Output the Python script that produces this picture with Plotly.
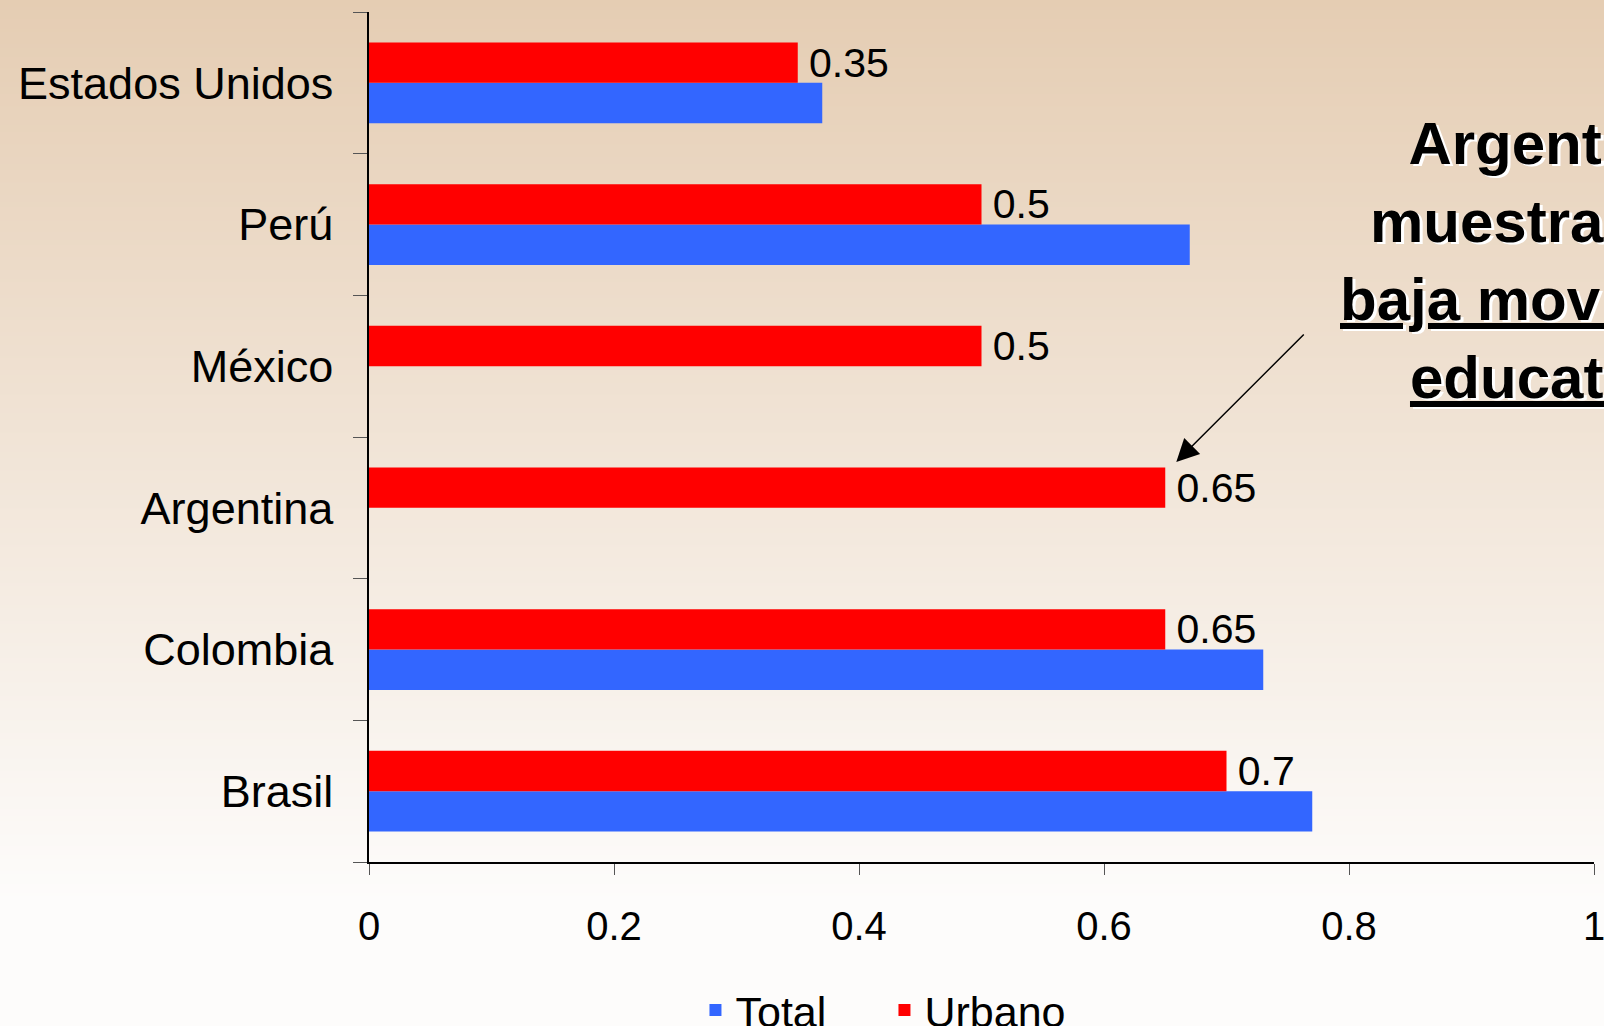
import base64, struct, zlib
import plotly.graph_objects as go

# ---- data ----
countries = ["Brasil", "Colombia", "Argentina", "México", "Perú", "Estados Unidos"]
total_vals = [0.77, 0.73, None, None, 0.67, 0.37]
urbano_vals = [0.70, 0.65, 0.65, 0.50, 0.50, 0.35]
x_ticks = [0, 0.2, 0.4, 0.6, 0.8, 1]
x_tick_labels = ["0", "0.2", "0.4", "0.6", "0.8", "1"]
series_names = ["Total", "Urbano"]

W, H = 1604, 1026
ML, MR, MT, MB = 369, 10, 12, 164

# ---- background gradient as tiny PNG (styling only) ----
def gradient_png(h):
    top = (229, 205, 179)
    bot = (253, 252, 251)
    end = 0.88
    rows = b""
    for i in range(h):
        t = min(1.0, (i / (h - 1)) / end)
        c = tuple(int(round(top[k] + (bot[k] - top[k]) * t)) for k in range(3))
        rows += b"\x00" + bytes(c)
    def chunk(tag, data):
        return struct.pack(">I", len(data)) + tag + data + struct.pack(">I", zlib.crc32(tag + data) & 0xffffffff)
    png = b"\x89PNG\r\n\x1a\n"
    png += chunk(b"IHDR", struct.pack(">IIBBBBB", 1, h, 8, 2, 0, 0, 0))
    png += chunk(b"IDAT", zlib.compress(rows))
    png += chunk(b"IEND", b"")
    return "data:image/png;base64," + base64.b64encode(png).decode()

font = "Liberation Sans, Arial, sans-serif"

fig = go.Figure()
fig.add_trace(go.Bar(
    y=countries, x=total_vals, name=series_names[0], orientation="h",
    marker=dict(color="#3366FF", line=dict(width=0)),
))
fig.add_trace(go.Bar(
    y=countries, x=urbano_vals, name=series_names[1], orientation="h",
    marker=dict(color="#FF0000", line=dict(width=0)),
    text=urbano_vals, texttemplate="\u2009%{x}", textposition="outside",
    textfont=dict(size=41, color="black", family=font), constraintext="none",
    cliponaxis=False,
))

pw = W - ML - MR
ph = H - MT - MB
fig.update_layout(
    width=W, height=H,
    margin=dict(l=ML, r=MR, t=MT, b=MB, autoexpand=False),
    barmode="group", bargap=0.43, bargroupgap=0,
    paper_bgcolor="#FDFCFB", plot_bgcolor="rgba(0,0,0,0)",
    font=dict(family=font, color="black"),
    showlegend=True,
    legend=dict(orientation="h", x=0.2665, xanchor="left", y=-0.2147, yanchor="bottom",
                font=dict(size=43, family=font), bgcolor="rgba(0,0,0,0)",
                traceorder="normal", itemwidth=30, entrywidth=144),
    images=[dict(source=gradient_png(H), xref="paper", yref="paper",
                 x=-ML / pw - 0.02, y=1 + MT / ph, sizex=W / pw + 0.04, sizey=H / ph,
                 xanchor="left", yanchor="top", sizing="stretch", layer="below")],
    xaxis=dict(range=[0, 1], tickvals=x_ticks, ticktext=x_tick_labels,
               ticks="outside", ticklen=11, tickcolor="#555", tickwidth=1,
               showline=True, linecolor="black", linewidth=1.5, automargin=False,
               showgrid=False, zeroline=False, ticklabeloverflow="allow",
               tickfont=dict(size=40, family=font), ticklabelstandoff=17),
    yaxis=dict(categoryorder="array", categoryarray=countries,
               tickson="boundaries", ticks="outside", ticklen=14, tickcolor="#555",
               showline=True, linecolor="black", linewidth=1.5, automargin=False,
               showgrid=False, zeroline=False,
               tickfont=dict(size=45, family=font), ticklabelstandoff=25),
)

# callout text with white shadow
txt = "<b>Argentina<br>muestra una<br><u>baja movilidad</u><br><u>educativa</u></b>"
for col, xs, ys in [("white", 2.5, -2.5), ("black", 0, 0)]:
    fig.add_annotation(text=txt, xref="paper", yref="paper", x=0.9629, y=0.708,
                       xanchor="center", yanchor="middle", showarrow=False,
                       xshift=xs, yshift=ys, align="center",
                       font=dict(size=60, color=col, family=font))

# arrow pointing to Argentina
fig.add_annotation(text="", xref="x", yref="y", x=0.659, y=2.324,
                   ax=129, ay=-129, showarrow=True, arrowhead=2, arrowsize=3,
                   arrowwidth=1.5, arrowcolor="black", standoff=0)

fig.write_html("out.html", config={"displayModeBar": False},
               post_script="document.body.style.margin='0';document.body.style.overflow='hidden';")
